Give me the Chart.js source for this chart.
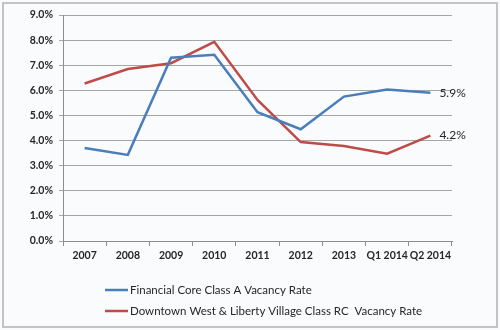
<!DOCTYPE html>
<html>
<head>
<meta charset="utf-8">
<script src="https://cdn.jsdelivr.net/npm/chart.js@4"></script>
<style>
  html, body { margin: 0; padding: 0; background: #ffffff; }
  #wrap { width: 500px; height: 330px; }
</style>
</head>
<body>
<div id="wrap"><canvas id="chart" width="500" height="330"></canvas></div>
<script>
// chart data
const periods = ['2007', '2008', '2009', '2010', '2011', '2012', '2013', 'Q1 2014', 'Q2 2014'];
const financialCore = [3.7, 3.43, 7.3, 7.42, 5.13, 4.45, 5.75, 6.03, 5.9];
const downtownWest = [6.27, 6.85, 7.08, 7.93, 5.62, 3.94, 3.78, 3.48, 4.2];
const seriesNames = ['Financial Core Class A Vacancy Rate', 'Downtown West & Liberty Village Class RC  Vacancy Rate'];
const yTicks = [0, 1, 2, 3, 4, 5, 6, 7, 8, 9];

const FONT = 'Lato, "Liberation Sans", Arial, sans-serif';

// background + border like the excel frame
const framePlugin = {
    id: 'frame',
    beforeDraw(chart) {
        const c = chart.ctx;
        c.save();
        c.fillStyle = '#fafbfd';
        c.fillRect(0, 0, chart.width, chart.height);
        c.strokeStyle = '#c3c3c3';
        c.lineWidth = 2;
        c.strokeRect(3, 3, chart.width - 6, chart.height - 6);
        c.restore();
    }
};

// label on the last point of each line
const endLabels = {
    id: 'endLabels',
    afterDatasetsDraw(chart) {
        const c = chart.ctx;
        c.save();
        c.font = '12px ' + FONT;
        c.fillStyle = '#262626';
        c.textBaseline = 'middle';
        chart.data.datasets.forEach((ds, i) => {
            const pts = chart.getDatasetMeta(i).data;
            const p = pts[pts.length - 1];
            c.fillText(ds.data[ds.data.length - 1].toFixed(1) + '%', p.x + 9, p.y);
        });
        c.restore();
    }
};

// stacked legend under the axis
const stackedLegend = {
    id: 'stackedLegend',
    afterDraw(chart) {
        const c = chart.ctx;
        c.save();
        c.font = '11.5px ' + FONT;
        c.textBaseline = 'middle';
        chart.data.datasets.forEach((ds, i) => {
            const y = 290 + i * 21;
            c.strokeStyle = ds.borderColor;
            c.lineWidth = 2.5;
            c.beginPath();
            c.moveTo(105, y);
            c.lineTo(128, y);
            c.stroke();
            c.fillStyle = '#262626';
            c.fillText(ds.label, 130, y);
        });
        c.restore();
    }
};

const ctx = document.getElementById('chart');
chart = new Chart(ctx, {
    type: 'line',
    data: {
        labels: periods,
        datasets: [{
            label: seriesNames[0],
            data: financialCore,
            borderColor: '#4a7ebb',
            borderWidth: 2.5,
            pointRadius: 0,
            tension: 0
        }, {
            label: seriesNames[1],
            data: downtownWest,
            borderColor: '#be4b48',
            borderWidth: 2.5,
            pointRadius: 0,
            tension: 0
        }]
    },
    options: {
        animation: false,
        responsive: false,
        layout: {
            padding: { left: 10, right: 48, top: 15, bottom: 64 }
        },
        plugins: {
            legend: { display: false },
            tooltip: { enabled: false }
        },
        scales: {
            x: {
                offset: true,
                grid: {
                    offset: true,
                    drawOnChartArea: false,
                    tickLength: 5,
                    color: '#8c8c8c'
                },
                border: { color: '#8c8c8c' },
                ticks: {
                    color: '#262626',
                    font: { family: FONT, size: 10.5, weight: 'bold' },
                    maxRotation: 0,
                    autoSkip: false,
                    padding: 3
                },
                afterFit(scale) { scale.height = 25; }
            },
            y: {
                min: 0,
                max: 9,
                afterBuildTicks(scale) { scale.ticks = yTicks.map(v => ({ value: v })); },
                grid: {
                    color: '#a6a6a6',
                    tickLength: 4
                },
                border: { color: '#8c8c8c' },
                ticks: {
                    color: '#262626',
                    font: { family: FONT, size: 10.5, weight: 'bold' },
                    padding: 6,
                    callback: v => v.toFixed(1) + '%'
                },
                afterFit(scale) { scale.width = 53; }
            }
        }
    },
    plugins: [framePlugin, endLabels, stackedLegend]
});
</script>
</body>
</html>
